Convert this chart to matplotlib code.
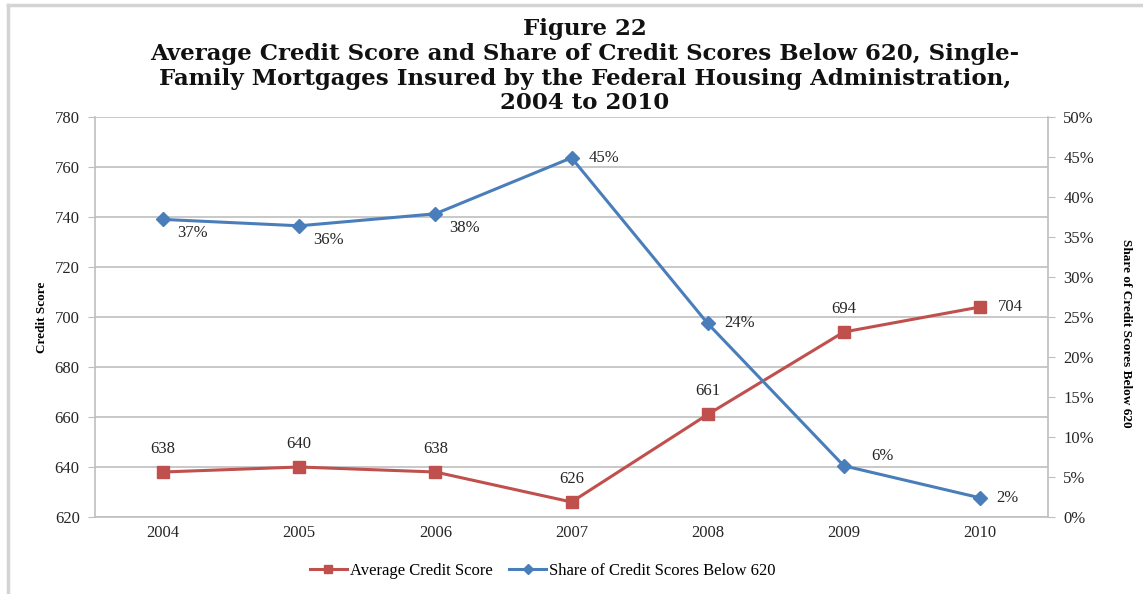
import matplotlib
matplotlib.use("Agg")
import matplotlib.pyplot as plt
from matplotlib.lines import Line2D

years = ["2004", "2005", "2006", "2007", "2008", "2009", "2010"]
avg_score = [638, 640, 638, 626, 661, 694, 704]
share_below_620 = [37.2, 36.4, 37.9, 44.9, 24.2, 6.4, 2.4]
left_ticks = [620, 640, 660, 680, 700, 720, 740, 760, 780]
right_ticks = [0, 5, 10, 15, 20, 25, 30, 35, 40, 45, 50]

title_lines = [
    "Figure 22",
    "Average Credit Score and Share of Credit Scores Below 620, Single-",
    "Family Mortgages Insured by the Federal Housing Administration,",
    "2004 to 2010",
]

RED = "#C0504D"
BLUE = "#4A7EBB"
GRID = "#BFBFBF"
TXT = "#262626"
SERIF = ["Liberation Serif", "DejaVu Serif"]

plt.rcParams["font.family"] = SERIF

W, H = 1143, 594
fig = plt.figure(figsize=(W / 100, H / 100), dpi=100)

# outer border (top and left)
fig.add_artist(Line2D([8 / W, 1], [1 - 5 / H, 1 - 5 / H], transform=fig.transFigure,
                      color="#D4D4D4", lw=2.5))
fig.add_artist(Line2D([8 / W, 8 / W], [0, 1 - 5 / H], transform=fig.transFigure,
                      color="#D4D4D4", lw=2.5))

# title lines
title_y = [29, 54, 79, 103]
for line, yy in zip(title_lines, title_y):
    fig.text(585 / W, 1 - yy / H, line, ha="center", va="center",
             fontsize=16.5, fontweight="bold", color="#111111",
             family=["DejaVu Serif"])

ax = fig.add_axes([95 / W, 1 - 517 / H, (1048 - 95) / W, (517 - 117) / H])
x = list(range(len(years)))

ax.set_xlim(-0.5, len(years) - 0.5)
ax.set_ylim(620, 780)
ax.set_yticks(left_ticks)
ax.set_yticklabels([str(t) for t in left_ticks])
ax.set_xticks(x)
ax.set_xticklabels(years)
ax.grid(axis="y", color=GRID, lw=1.2)
ax.set_axisbelow(True)
for s in ["left", "bottom", "right", "top"]:
    ax.spines[s].set_color(GRID)
    ax.spines[s].set_linewidth(1.2)
ax.spines["top"].set_visible(False)
ax.tick_params(axis="y", length=5, color=GRID, labelsize=12, labelcolor=TXT, pad=6)
ax.tick_params(axis="x", length=0, labelsize=12, labelcolor=TXT, pad=6)
ax.set_ylabel("Credit Score", fontsize=9.5, fontweight="bold", labelpad=5)

ax2 = ax.twinx()
ax2.set_ylim(0, 50)
ax2.set_yticks(right_ticks)
ax2.set_yticklabels([f"{t}%" for t in right_ticks])
ax2.tick_params(axis="y", length=5, color=GRID, labelsize=12, labelcolor=TXT, pad=6)
for s in ["left", "bottom", "right", "top"]:
    ax2.spines[s].set_visible(False)
ax2.set_ylabel("Share of Credit Scores Below 620", fontsize=9.5, fontweight="bold",
               rotation=-90)
ax2.yaxis.set_label_coords(1 + 84 / 953, 0.46)

ax.plot(x, avg_score, color=RED, lw=2.2, marker="s", ms=9, zorder=3,
        label="Average Credit Score")
ax2.plot(x, share_below_620, color=BLUE, lw=2.2, marker="D", ms=7, zorder=3,
         label="Share of Credit Scores Below 620")

# data labels
for i, v in enumerate(avg_score):
    if i == len(avg_score) - 1:
        ax.annotate(f"{v}", (i, v), xytext=(13, 0), textcoords="offset points",
                    ha="left", va="center", fontsize=12, color=TXT)
    else:
        ax.annotate(f"{v}", (i, v), xytext=(0, 11), textcoords="offset points",
                    ha="center", va="bottom", fontsize=12, color=TXT)

for i, v in enumerate(share_below_620):
    lab = f"{v:.0f}%"
    if i <= 2:
        ax2.annotate(lab, (i, v), xytext=(10, -10), textcoords="offset points",
                     ha="left", va="center", fontsize=12, color=TXT)
    elif i == 5:
        ax2.annotate(lab, (i, v), xytext=(20, 7), textcoords="offset points",
                     ha="left", va="center", fontsize=12, color=TXT)
    else:
        ax2.annotate(lab, (i, v), xytext=(12, 0), textcoords="offset points",
                     ha="left", va="center", fontsize=12, color=TXT)

h1, l1 = ax.get_legend_handles_labels()
h2, l2 = ax2.get_legend_handles_labels()
fig.legend(h1 + h2, l1 + l2, loc="center", bbox_to_anchor=(543 / W, 1 - 571 / H),
           ncol=2, frameon=False, fontsize=12, handlelength=2.2, columnspacing=1.0,
           handletextpad=0.2, markerscale=0.7)

fig.savefig("out.png", dpi=100)
